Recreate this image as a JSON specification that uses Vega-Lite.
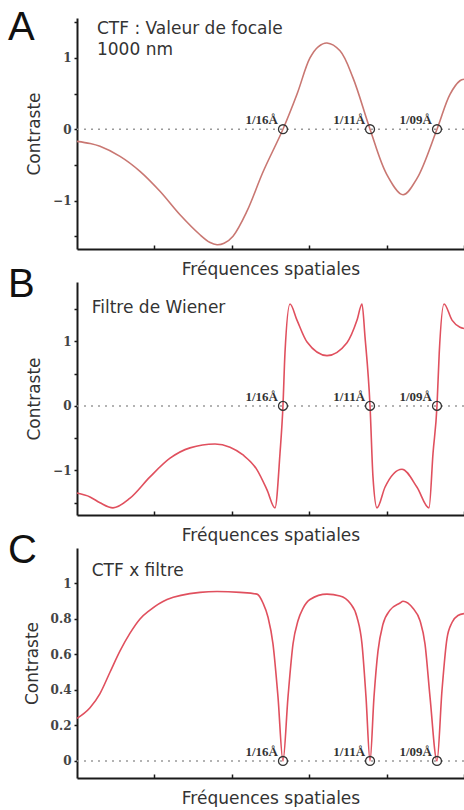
{
  "$schema": "https://vega.github.io/schema/vega-lite/v6.json",
  "padding": {"left": 8, "top": 8, "right": 0, "bottom": 0},
  "background": "white",
  "spacing": 33,
  "bounds": "flush",
  "datasets": {
    "ctf": [
      {"f": 0, "c": -0.17}, {"f": 0.168, "c": -0.2}, {"f": 0.297, "c": -0.24}, {"f": 0.556, "c": -0.38},
      {"f": 0.814, "c": -0.59}, {"f": 1.072, "c": -0.87}, {"f": 1.331, "c": -1.2}, {"f": 1.589, "c": -1.48},
      {"f": 1.72, "c": -1.59}, {"f": 1.809, "c": -1.62}, {"f": 1.9, "c": -1.6}, {"f": 2.016, "c": -1.5},
      {"f": 2.196, "c": -1.15}, {"f": 2.403, "c": -0.6},
      {"f": 2.661, "c": 0}, {"f": 2.842, "c": 0.49}, {"f": 3.01, "c": 1.0}, {"f": 3.12, "c": 1.16},
      {"f": 3.23, "c": 1.21}, {"f": 3.398, "c": 1.1}, {"f": 3.566, "c": 0.72}, {"f": 3.786, "c": 0},
      {"f": 4.005, "c": -0.64}, {"f": 4.212, "c": -0.92}, {"f": 4.393, "c": -0.69}, {"f": 4.651, "c": 0},
      {"f": 4.819, "c": 0.49}, {"f": 4.948, "c": 0.68}, {"f": 5.0, "c": 0.7}
    ],
    "wiener": [
      {"f": 0, "c": -1.35}, {"f": 0.168, "c": -1.41}, {"f": 0.297, "c": -1.5}, {"f": 0.465, "c": -1.58},
      {"f": 0.685, "c": -1.43}, {"f": 0.943, "c": -1.1}, {"f": 1.202, "c": -0.81}, {"f": 1.46, "c": -0.65},
      {"f": 1.783, "c": -0.59}, {"f": 1.977, "c": -0.64}, {"f": 2.145, "c": -0.76}, {"f": 2.326, "c": -0.99},
      {"f": 2.455, "c": -1.3}, {"f": 2.558, "c": -1.58}, {"f": 2.623, "c": -0.73}, {"f": 2.661, "c": 0},
      {"f": 2.687, "c": 0.82}, {"f": 2.752, "c": 1.58}, {"f": 2.842, "c": 1.33}, {"f": 2.972, "c": 0.99},
      {"f": 3.23, "c": 0.78}, {"f": 3.488, "c": 0.98}, {"f": 3.618, "c": 1.33}, {"f": 3.682, "c": 1.58},
      {"f": 3.721, "c": 1.07}, {"f": 3.786, "c": 0}, {"f": 3.824, "c": -1.1}, {"f": 3.876, "c": -1.58},
      {"f": 3.979, "c": -1.26}, {"f": 4.199, "c": -0.98}, {"f": 4.393, "c": -1.26}, {"f": 4.548, "c": -1.58},
      {"f": 4.6, "c": -0.73}, {"f": 4.651, "c": 0}, {"f": 4.68, "c": 0.82}, {"f": 4.742, "c": 1.58},
      {"f": 4.845, "c": 1.33}, {"f": 4.948, "c": 1.22}, {"f": 5.0, "c": 1.2}
    ],
    "produit": [
      {"f": 0, "c": 0.24}, {"f": 0.168, "c": 0.3}, {"f": 0.297, "c": 0.38}, {"f": 0.426, "c": 0.5},
      {"f": 0.556, "c": 0.62}, {"f": 0.685, "c": 0.72}, {"f": 0.814, "c": 0.8}, {"f": 0.943, "c": 0.85},
      {"f": 1.163, "c": 0.91}, {"f": 1.589, "c": 0.95}, {"f": 1.809, "c": 0.955},
      {"f": 2.106, "c": 0.95}, {"f": 2.326, "c": 0.94}, {"f": 2.403, "c": 0.89}, {"f": 2.468, "c": 0.81},
      {"f": 2.532, "c": 0.66}, {"f": 2.597, "c": 0.36}, {"f": 2.661, "c": 0}, {"f": 2.726, "c": 0.36},
      {"f": 2.791, "c": 0.66}, {"f": 2.855, "c": 0.79}, {"f": 2.92, "c": 0.86}, {"f": 3.01, "c": 0.91},
      {"f": 3.23, "c": 0.94}, {"f": 3.398, "c": 0.93}, {"f": 3.527, "c": 0.89}, {"f": 3.618, "c": 0.81},
      {"f": 3.682, "c": 0.66}, {"f": 3.734, "c": 0.36}, {"f": 3.786, "c": 0}, {"f": 3.837, "c": 0.36},
      {"f": 3.889, "c": 0.62}, {"f": 3.953, "c": 0.77}, {"f": 4.044, "c": 0.85}, {"f": 4.173, "c": 0.89},
      {"f": 4.212, "c": 0.9}, {"f": 4.341, "c": 0.86}, {"f": 4.432, "c": 0.79}, {"f": 4.496, "c": 0.66},
      {"f": 4.561, "c": 0.36}, {"f": 4.651, "c": 0}, {"f": 4.716, "c": 0.4}, {"f": 4.78, "c": 0.69},
      {"f": 4.845, "c": 0.78}, {"f": 4.922, "c": 0.82}, {"f": 5.0, "c": 0.83}
    ],
    "zeros": [
      {"f": 2.661, "c": 0, "label": "1/16Å"},
      {"f": 3.786, "c": 0, "label": "1/11Å"},
      {"f": 4.651, "c": 0, "label": "1/09Å"}
    ],
    "one": [{"k": 1}]
  },
  "vconcat": [
    {
      "width": 387, "height": 231,
      "title": {"text": "A", "offset": -30},
      "layer": [
        {"data": {"name": "ctf"}, "mark": {"type": "line", "interpolate": "catmull-rom", "color": "#c97772", "strokeWidth": 1.6},
         "encoding": {
           "x": {"field": "f", "type": "quantitative", "scale": {"domain": [0, 5], "nice": false, "zero": false},
                 "axis": {"title": "Fréquences spatiales", "values": [1, 2, 3, 4, 5], "labels": false}},
           "y": {"field": "c", "type": "quantitative", "scale": {"domain": [-1.68, 1.56], "nice": false, "zero": false},
                 "axis": {"title": "Contraste", "values": [-1.5, -1, -0.5, 0, 0.5, 1, 1.5], "labelExpr": "datum.value % 1 === 0 ? format(datum.value, '~g') : ''"}}
         }},
        {"data": {"name": "one"}, "mark": {"type": "rule", "color": "#9a9a9a", "strokeDash": [2, 5], "strokeWidth": 1.5},
         "encoding": {"y": {"datum": 0, "type": "quantitative",
                 "axis": {"title": "Contraste", "values": [-1.5, -1, -0.5, 0, 0.5, 1, 1.5], "labelExpr": "datum.value % 1 === 0 ? format(datum.value, '~g') : ''"}}}},
        {"data": {"name": "zeros"}, "mark": {"type": "point", "shape": "circle", "filled": false, "size": 80, "color": "#333", "strokeWidth": 1.3, "opacity": 1},
         "encoding": {"x": {"field": "f", "type": "quantitative"},
           "y": {"field": "c", "type": "quantitative",
                 "axis": {"title": "Contraste", "values": [-1.5, -1, -0.5, 0, 0.5, 1, 1.5], "labelExpr": "datum.value % 1 === 0 ? format(datum.value, '~g') : ''"}}}},
        {"data": {"name": "zeros"}, "mark": {"type": "text", "align": "right", "baseline": "alphabetic", "dx": -5, "dy": -5, "font": "Liberation Serif", "fontWeight": "bold", "fontSize": 13, "color": "#333"},
         "encoding": {"x": {"field": "f", "type": "quantitative"},
           "y": {"field": "c", "type": "quantitative",
                 "axis": {"title": "Contraste", "values": [-1.5, -1, -0.5, 0, 0.5, 1, 1.5], "labelExpr": "datum.value % 1 === 0 ? format(datum.value, '~g') : ''"}},
           "text": {"field": "label"}}},
        {"data": {"name": "one"}, "mark": {"type": "text", "align": "left", "baseline": "alphabetic", "text": ["CTF : Valeur de focale", "1000 nm"], "lineHeight": 21, "font": "DejaVu Sans", "fontSize": 17, "color": "#333"},
         "encoding": {"x": {"datum": 0.258, "type": "quantitative"},
           "y": {"datum": 1.34, "type": "quantitative",
                 "axis": {"title": "Contraste", "values": [-1.5, -1, -0.5, 0, 0.5, 1, 1.5], "labelExpr": "datum.value % 1 === 0 ? format(datum.value, '~g') : ''"}}}}
      ]
    },
    {
      "width": 387, "height": 233,
      "title": {"text": "B", "offset": -23},
      "layer": [
        {"data": {"name": "wiener"}, "mark": {"type": "line", "interpolate": "monotone", "color": "#e0505e", "strokeWidth": 1.6},
         "encoding": {
           "x": {"field": "f", "type": "quantitative", "scale": {"domain": [0, 5], "nice": false, "zero": false},
                 "axis": {"title": "Fréquences spatiales", "values": [1, 2, 3, 4, 5], "labels": false}},
           "y": {"field": "c", "type": "quantitative", "scale": {"domain": [-1.69, 1.92], "nice": false, "zero": false},
                 "axis": {"title": "Contraste", "values": [-1.5, -1, -0.5, 0, 0.5, 1, 1.5], "labelExpr": "datum.value % 1 === 0 ? format(datum.value, '~g') : ''"}}
         }},
        {"data": {"name": "one"}, "mark": {"type": "rule", "color": "#9a9a9a", "strokeDash": [2, 5], "strokeWidth": 1.5},
         "encoding": {"y": {"datum": 0, "type": "quantitative",
                 "axis": {"title": "Contraste", "values": [-1.5, -1, -0.5, 0, 0.5, 1, 1.5], "labelExpr": "datum.value % 1 === 0 ? format(datum.value, '~g') : ''"}}}},
        {"data": {"name": "zeros"}, "mark": {"type": "point", "shape": "circle", "filled": false, "size": 80, "color": "#333", "strokeWidth": 1.3, "opacity": 1},
         "encoding": {"x": {"field": "f", "type": "quantitative"},
           "y": {"field": "c", "type": "quantitative",
                 "axis": {"title": "Contraste", "values": [-1.5, -1, -0.5, 0, 0.5, 1, 1.5], "labelExpr": "datum.value % 1 === 0 ? format(datum.value, '~g') : ''"}}}},
        {"data": {"name": "zeros"}, "mark": {"type": "text", "align": "right", "baseline": "alphabetic", "dx": -5, "dy": -5, "font": "Liberation Serif", "fontWeight": "bold", "fontSize": 13, "color": "#333"},
         "encoding": {"x": {"field": "f", "type": "quantitative"},
           "y": {"field": "c", "type": "quantitative",
                 "axis": {"title": "Contraste", "values": [-1.5, -1, -0.5, 0, 0.5, 1, 1.5], "labelExpr": "datum.value % 1 === 0 ? format(datum.value, '~g') : ''"}},
           "text": {"field": "label"}}},
        {"data": {"name": "one"}, "mark": {"type": "text", "align": "left", "baseline": "alphabetic", "text": "Filtre de Wiener", "font": "DejaVu Sans", "fontSize": 17, "color": "#333"},
         "encoding": {"x": {"datum": 0.19, "type": "quantitative"},
           "y": {"datum": 1.44, "type": "quantitative",
                 "axis": {"title": "Contraste", "values": [-1.5, -1, -0.5, 0, 0.5, 1, 1.5], "labelExpr": "datum.value % 1 === 0 ? format(datum.value, '~g') : ''"}}}}
      ]
    },
    {
      "width": 387, "height": 230,
      "title": {"text": "C", "offset": -23},
      "layer": [
        {"data": {"name": "produit"}, "mark": {"type": "line", "interpolate": "monotone", "color": "#e0505e", "strokeWidth": 1.6},
         "encoding": {
           "x": {"field": "f", "type": "quantitative", "scale": {"domain": [0, 5], "nice": false, "zero": false},
                 "axis": {"title": "Fréquences spatiales", "values": [1, 2, 3, 4, 5], "labels": false}},
           "y": {"field": "c", "type": "quantitative", "scale": {"domain": [-0.096, 1.2], "nice": false, "zero": false},
                 "axis": {"title": "Contraste", "values": [0, 0.2, 0.4, 0.6, 0.8, 1], "format": "~g"}}
         }},
        {"data": {"name": "one"}, "mark": {"type": "rule", "color": "#9a9a9a", "strokeDash": [2, 5], "strokeWidth": 1.5},
         "encoding": {"y": {"datum": 0, "type": "quantitative", "axis": {"title": "Contraste", "values": [0, 0.2, 0.4, 0.6, 0.8, 1], "format": "~g"}}}},
        {"data": {"name": "zeros"}, "mark": {"type": "point", "shape": "circle", "filled": false, "size": 80, "color": "#333", "strokeWidth": 1.3, "opacity": 1},
         "encoding": {"x": {"field": "f", "type": "quantitative"}, "y": {"field": "c", "type": "quantitative", "axis": {"title": "Contraste", "values": [0, 0.2, 0.4, 0.6, 0.8, 1], "format": "~g"}}}},
        {"data": {"name": "zeros"}, "mark": {"type": "text", "align": "right", "baseline": "alphabetic", "dx": -5, "dy": -5, "font": "Liberation Serif", "fontWeight": "bold", "fontSize": 13, "color": "#333"},
         "encoding": {"x": {"field": "f", "type": "quantitative"}, "y": {"field": "c", "type": "quantitative", "axis": {"title": "Contraste", "values": [0, 0.2, 0.4, 0.6, 0.8, 1], "format": "~g"}}, "text": {"field": "label"}}},
        {"data": {"name": "one"}, "mark": {"type": "text", "align": "left", "baseline": "alphabetic", "text": "CTF x filtre", "font": "DejaVu Sans", "fontSize": 17, "color": "#333"},
         "encoding": {"x": {"datum": 0.19, "type": "quantitative"}, "y": {"datum": 1.045, "type": "quantitative", "axis": {"title": "Contraste", "values": [0, 0.2, 0.4, 0.6, 0.8, 1], "format": "~g"}}}}
      ]
    }
  ],
  "config": {
    "view": {"stroke": null},
    "title": {"anchor": "start", "frame": "group", "font": "Liberation Sans", "fontSize": 40, "fontWeight": "normal", "color": "#111", "baseline": "alphabetic", "dx": -69},
    "axis": {"domainColor": "#1a1a1a", "domainWidth": 2, "tickColor": "#1a1a1a", "tickWidth": 1.5, "grid": false,
             "labelFont": "DejaVu Serif", "labelFontWeight": "bold", "labelFontSize": 12, "labelColor": "#444", "labelPadding": 3,
             "titleFont": "DejaVu Sans", "titleFontSize": 17, "titleFontWeight": "normal", "titleColor": "#333"},
    "axisY": {"titlePadding": 9, "tickSize": 3},
    "axisX": {"titlePadding": 12, "tickSize": -4}
  }
}
